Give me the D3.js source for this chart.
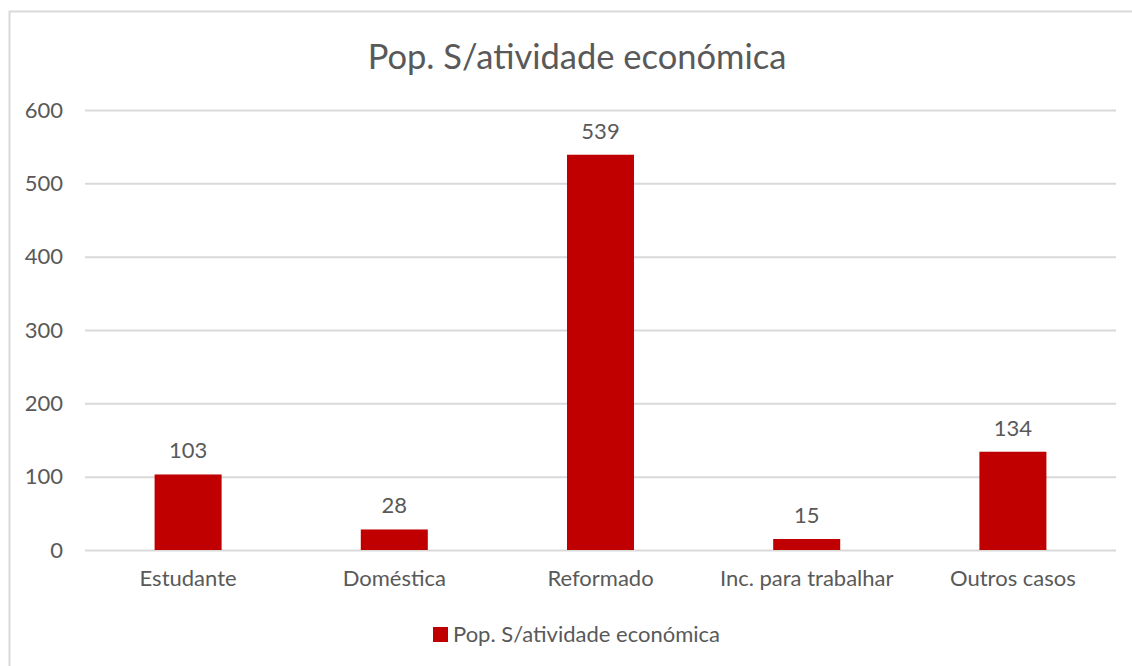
<!DOCTYPE html>
<html>
<head>
<meta charset="utf-8">
<script src="https://cdn.jsdelivr.net/npm/d3@7"></script>
<style>
  body { margin: 0; background: #fff; }
  text { font-family: Lato, "Open Sans", sans-serif; fill: #595959; }
</style>
</head>
<body>
<div id="chart"></div>
<script>
// data
const categories = ["Estudante", "Doméstica", "Reformado", "Inc. para trabalhar", "Outros casos"];
const values = [103, 28, 539, 15, 134];
const yTicks = [0, 100, 200, 300, 400, 500, 600];
const seriesName = "Pop. S/atividade económica";
const chartTitle = "Pop. S/atividade económica";

function drawChart() {
    const W = 1132, H = 666;
    const plot = {left: 85, right: 1116, top: 110, bottom: 550};

    const svg = d3.select("#chart")
        .append("svg")
        .attr("width", W)
        .attr("height", H);

    // outer frame (only top/left visible in the crop)
    svg.append("rect")
        .attr("x", 9.5).attr("y", 11.5)
        .attr("width", 1140).attr("height", 700)
        .attr("fill", "#fff")
        .attr("stroke", "#d9d9d9")
        .attr("stroke-width", 2);

    svg.append("text")
        .attr("x", 577).attr("y", 69)
        .attr("text-anchor", "middle")
        .style("font-size", "34.5px")
        .text(chartTitle);

    const xScale = d3.scaleBand()
        .domain(categories)
        .range([plot.left, plot.right])
        .paddingInner(0.675)
        .paddingOuter(0.3375);

    const yScale = d3.scaleLinear()
        .domain([0, 600])
        .range([plot.bottom, plot.top]);

    // gridlines + y labels
    const yAxis = svg.append("g")
        .attr("transform", `translate(${plot.left}, 0)`)
        .call(d3.axisLeft(yScale)
            .tickValues(yTicks)
            .tickSize(-(plot.right - plot.left))
            .tickPadding(22));
    yAxis.select(".domain").remove();
    yAxis.selectAll("line").attr("stroke", "#d9d9d9").attr("stroke-width", 2);
    yAxis.selectAll("text")
        .style("font-size", "22px")
        .style("font-family", "Lato, 'Open Sans', sans-serif")
        .attr("fill", "#595959");

    // x labels
    const xAxis = svg.append("g")
        .attr("transform", `translate(0, ${plot.bottom})`)
        .call(d3.axisBottom(xScale).tickSize(0).tickPadding(20));
    xAxis.select(".domain").remove();
    xAxis.selectAll("text")
        .style("font-size", "22px")
        .style("font-family", "Lato, 'Open Sans', sans-serif")
        .attr("fill", "#595959");

    // bars
    svg.selectAll(".bar")
        .data(values)
        .enter()
        .append("rect")
        .attr("class", "bar")
        .attr("x", (d, i) => xScale(categories[i]))
        .attr("width", xScale.bandwidth())
        .attr("y", d => yScale(d))
        .attr("height", d => yScale(0) - yScale(d))
        .attr("fill", "#c00000");

    // data labels
    svg.selectAll(".lbl")
        .data(values)
        .enter()
        .append("text")
        .attr("class", "lbl")
        .attr("x", (d, i) => xScale(categories[i]) + xScale.bandwidth() / 2)
        .attr("y", d => yScale(d) - 16)
        .attr("text-anchor", "middle")
        .style("font-size", "22px")
        .text(d => d);

    // legend
    const leg = svg.append("g").attr("transform", "translate(433, 627)");
    leg.append("rect")
        .attr("width", 15).attr("height", 15)
        .attr("fill", "#c00000");
    leg.append("text")
        .attr("x", 20).attr("y", 15)
        .style("font-size", "22px")
        .text(seriesName);
}

drawChart();
</script>
</body>
</html>
